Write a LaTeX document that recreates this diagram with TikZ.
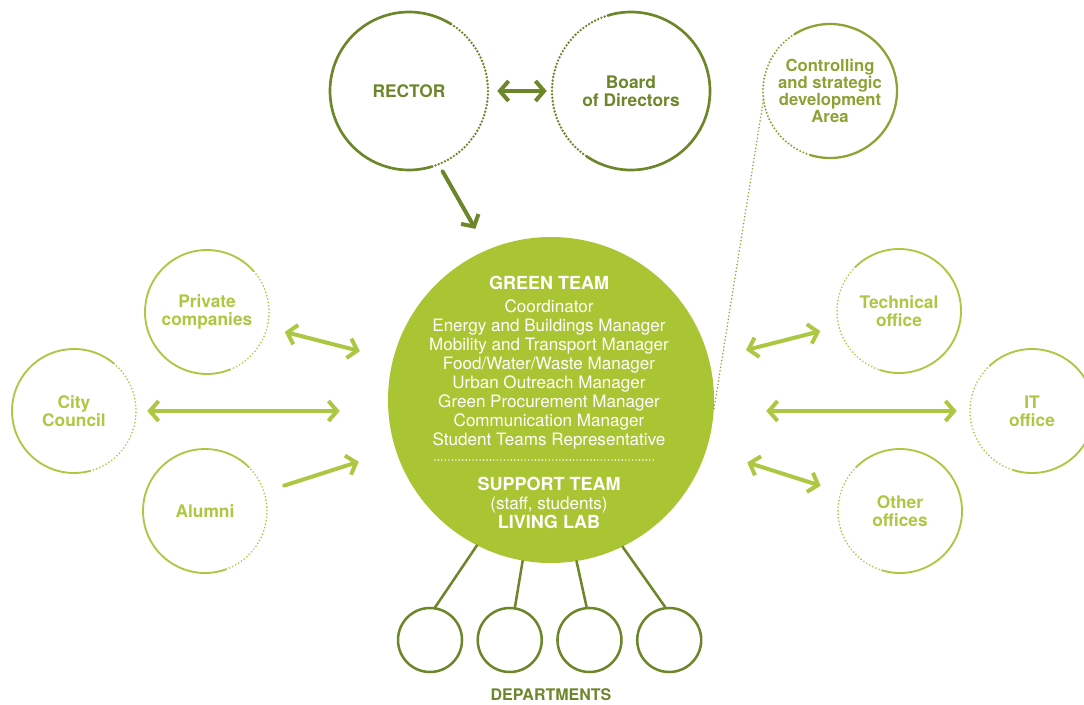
\documentclass[tikz,border=0pt]{standalone}
\usepackage{fontspec}
\setmainfont{TeX Gyre Heros}
\usetikzlibrary{arrows.meta,calc}

\definecolor{darkolive}{RGB}{108,134,42}
\definecolor{limefill}{RGB}{170,197,52}
\definecolor{limeline}{RGB}{172,200,66}
\definecolor{midolive}{RGB}{140,162,52}

% solid outline, dotted from angle #3 to angle #4
\newcommand{\ringline}[5]{%
	\draw[#5] ($(#1.center)+(#4:#2)$) arc[start angle=#4,end angle=#3+360,radius=#2];
	\draw[#5,dotline] ($(#1.center)+(#3:#2)$) arc[start angle=#3,end angle=#4,radius=#2];}

\begin{document}
\begin{tikzpicture}[x=0.75pt,y=0.75pt,>={Straight Barb[length=6.5pt,width=15pt]},node distance=59.8pt,line cap=round]
		\tikzstyle{ring}=[circle,inner sep=0pt,align=center,font=\bfseries\fontsize{13}{13.5}\selectfont]
		\tikzstyle{bigring}=[ring,minimum size=118.5pt,text=darkolive]
		\tikzstyle{sidering}=[ring,minimum size=93pt,text=limeline]
		\tikzstyle{deptring}=[circle,draw=darkolive,line width=1.9pt,minimum size=48pt,inner sep=0pt]
		\tikzstyle{teamtext}=[text=white,align=center,font=\fontsize{12.8}{14.25}\selectfont]
		\tikzstyle{dotline}=[dash pattern=on 0pt off 2.6pt,line cap=round]
		\tikzstyle{twoway}=[<->,line width=3pt,draw=limeline]
		\useasboundingbox (0,0) rectangle (1084,704);
		% top row
		\node[bigring] (R) at (409,613) {RECTOR};
		\node[bigring] (B) at (631,613) {Board\\of Directors};
		\node[ring,minimum size=100.5pt,text=midolive,font=\bfseries\fontsize{12.5}{12.75}\selectfont] (K) at (830,613) {Controlling\\and strategic\\development\\Area};
		% green team
		\node[circle,fill=limefill,minimum size=244.5pt,inner sep=0pt] (G) at (551,304) {};
		\node[teamtext] (GT) at (549,341) {{\bfseries\fontsize{13.5}{14.25}\selectfont GREEN TEAM}\\[3pt]Coordinator\\Energy and Buildings Manager\\Mobility and Transport Manager\\Food/Water/Waste Manager\\Urban Outreach Manager\\Green Procurement Manager\\Communication Manager\\Student Teams Representative};
		\node[teamtext] (ST) at (549,201) {{\bfseries\fontsize{13.5}{14.25}\selectfont SUPPORT TEAM}\\(staff, students)\\[0.5pt]{\bfseries\fontsize{13.5}{14.25}\selectfont LIVING LAB}};
		\draw[white,line width=1.2pt,dotline] ($(G.center)+(-116,-60)$) -- ($(G.center)+(104,-60)$);
		% partners
		\node[sidering] (P) at (207,392) {Private\\companies};
		\node[sidering] (C) at (74,293) {City\\Council};
		\node[sidering] (A) at (205,193) {Alumni};
		\node[sidering] (T) at (899,393) {Technical\\office};
		\node[sidering] (I) at (1032,293) {IT\\office};
		\node[sidering] (O) at (900,193) {Other\\offices};
		% departments
		\node[deptring] (D1) at (430,64) {};
		\node[deptring] (D2) [right of=D1] {};
		\node[deptring] (D3) [right of=D2] {};
		\node[deptring] (D4) [right of=D3] {};
		\node[text=darkolive,font=\bfseries\fontsize{12}{12}\selectfont] (DL) at (551,9) {DEPARTMENTS};
		% outlines
		\ringline{R}{79}{-73}{58}{darkolive,line width=2pt}
		\ringline{B}{79}{107}{236}{darkolive,line width=2pt}
		\ringline{K}{67}{122}{253}{midolive,line width=1.7pt}
		\ringline{P}{62}{-68}{41}{limeline,line width=1.4pt}
		\ringline{C}{62}{-75}{50}{limeline,line width=1.4pt}
		\ringline{A}{62}{-70}{45}{limeline,line width=1.4pt}
		\ringline{T}{62}{135}{252}{limeline,line width=1.4pt}
		\ringline{I}{62}{133}{252}{limeline,line width=1.4pt}
		\ringline{O}{62}{135}{253}{limeline,line width=1.4pt}
		% connectors
		\path
		(R) edge[darkolive,line width=3pt,<->,shorten <=6.75pt,shorten >=3.75pt] (B)
		(R.-68) edge[darkolive,line width=3pt,->,shorten <=6pt,shorten >=18pt] (G.113)
		(K.188) edge[midolive,line width=1.3pt,dotline] (G.-3);
		\path
		(P) edge[twoway,shorten <=13.5pt,shorten >=25.5pt] (G)
		(C) edge[twoway,shorten <=8.25pt,shorten >=36pt] (C -| G.west)
		(A) edge[twoway,->,shorten <=15.75pt,shorten >=29pt] (G)
		(G) edge[twoway,shorten <=28.5pt,shorten >=14.25pt] (T)
		(G.east |- I) edge[twoway,shorten <=39pt,shorten >=9.75pt] (I)
		(G) edge[twoway,shorten <=32pt,shorten >=15.75pt] (O);
		\path[darkolive,line width=1.9pt]
		(G.-117) edge (D1.81)
		(G.-100) edge (D2.81)
		(G.-81) edge (D3.95)
		(G.-64) edge (D4.97);
\end{tikzpicture}
\end{document}
